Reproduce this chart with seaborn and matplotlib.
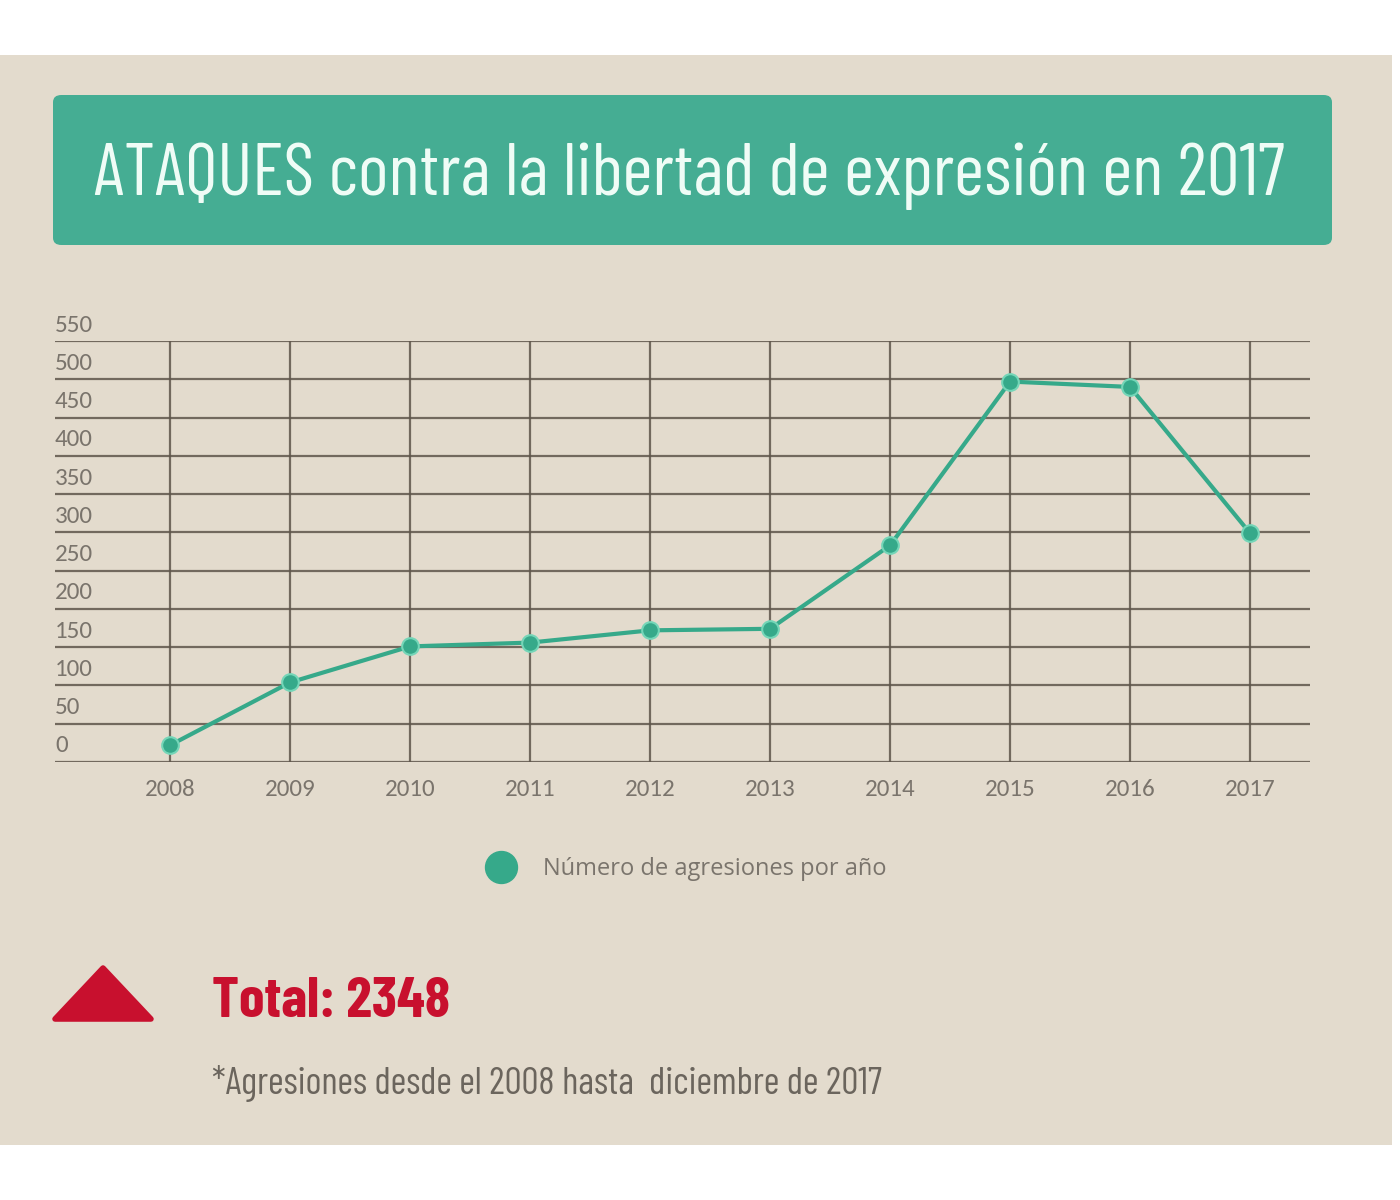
import numpy as np
import pandas as pd
import matplotlib
matplotlib.use("Agg")
import matplotlib.pyplot as plt
import matplotlib.transforms as mtransforms
from matplotlib.patches import FancyBboxPatch, Rectangle, Polygon
import seaborn as sns

# datos
years = [2008, 2009, 2010, 2011, 2012, 2013, 2014, 2015, 2016, 2017]
agresiones = [22, 104, 151, 156, 172, 174, 283, 497, 490, 299]
y_ticks = list(range(0, 551, 50))
total_label = "Total: 2348"
title = "ATAQUES contra la libertad de expresión en 2017"
serie_label = "Número de agresiones por año"
nota = "*Agresiones desde el 2008 hasta  diciembre de 2017"

df = pd.DataFrame({"Año": years, "Agresiones": agresiones})

BEIGE = "#e3dbcd"
TEAL = "#45ad93"
LINE = "#36a98a"
RED = "#c8102e"
GRID = "#5e554b"

COND = ["Ubuntu Condensed", "Barlow Condensed", "DejaVu Sans"]
TICKF = ["Carlito", "Open Sans", "DejaVu Sans"]

sns.set_theme(style="white")
plt.rcParams["font.family"] = COND

W, H = 1400, 1200
fig = plt.figure(figsize=(14, 12), dpi=100)
fig.patch.set_facecolor("white")
renderer = fig.canvas.get_renderer()


def fit_width(txt, px):
    # ajusta el tamaño del texto al ancho en pixeles del original
    w = txt.get_window_extent(renderer).width
    txt.set_fontsize(txt.get_fontsize() * px / w)


# fondo beige
fig.patches.append(Rectangle((0, 55 / H), 1392 / W, (1145 - 55) / H,
                             transform=fig.transFigure, facecolor=BEIGE,
                             edgecolor="none", zorder=-10))

# caja del titulo
fig.patches.append(FancyBboxPatch((53 / W, (H - 245) / H), (1332 - 53) / W, 150 / H,
                                  boxstyle="round,pad=0,rounding_size=0.006",
                                  transform=fig.transFigure, facecolor=TEAL,
                                  edgecolor="none", zorder=-5))
t = fig.text(689 / W, (H - 176) / H, title, color="#effcf6", fontsize=50,
             ha="center", va="center")
fit_width(t, 1192)

# grafico
ax = fig.add_axes([55 / W, (H - 762) / H, (1310 - 55) / W, (762 - 341) / H])
ax.set_facecolor("none")
sns.lineplot(data=df, x="Año", y="Agresiones", ax=ax, color=LINE, lw=3,
             marker="o", markersize=12, markeredgecolor="#74d6b8",
             markeredgewidth=1.5, zorder=5)
ax.set_xlim(2007.04, 2017.5)
ax.set_ylim(0, 550)
ax.set_xticks(years)
ax.set_yticks(y_ticks)
ax.set_xticklabels([str(y) for y in years])
ax.grid(True, color=GRID, lw=1.6, alpha=0.85)
for s in ax.spines.values():
    s.set_visible(False)
ax.set_xlabel("")
ax.set_ylabel("")
ax.tick_params(axis="both", length=0, labelsize=17, labelcolor="#7a746c")
ax.tick_params(axis="x", pad=12)
ax.tick_params(axis="y", pad=0)
offset = mtransforms.ScaledTranslation(0, 0.18, fig.dpi_scale_trans)
for lab in ax.get_yticklabels():
    lab.set_horizontalalignment("left")
    lab.set_transform(lab.get_transform() + offset)
for lab in ax.get_xticklabels() + ax.get_yticklabels():
    lab.set_fontfamily(TICKF)
    lab.set_fontsize(18)

# leyenda
ax.legend(handles=[plt.Line2D([], [], ls="none", marker="o", markersize=23,
                              color=LINE, markeredgecolor=LINE)],
          labels=[serie_label], loc="center", frameon=False,
          bbox_to_anchor=(682 / W, (H - 869) / H), bbox_transform=fig.transFigure,
          prop={"family": ["Open Sans", "DejaVu Sans"], "size": 17},
          labelcolor="#7a746c", handletextpad=0.8)

# total
fig.patches.append(Polygon([(55 / W, (H - 1019) / H), (151 / W, (H - 1019) / H),
                            (103 / W, (H - 968) / H)], closed=True,
                           transform=fig.transFigure, facecolor=RED,
                           edgecolor=RED, lw=4, joinstyle="round"))
tt = fig.text(212 / W, (H - 1002) / H, total_label, color=RED, fontsize=40,
              fontweight="bold", ha="left", va="center")
fit_width(tt, 238)
tn = fig.text(212 / W, (H - 1084) / H, nota, color="#6b655d", fontsize=22,
              ha="left", va="center")
fit_width(tn, 670)

fig.savefig("out.png", dpi=100, facecolor=fig.get_facecolor())
